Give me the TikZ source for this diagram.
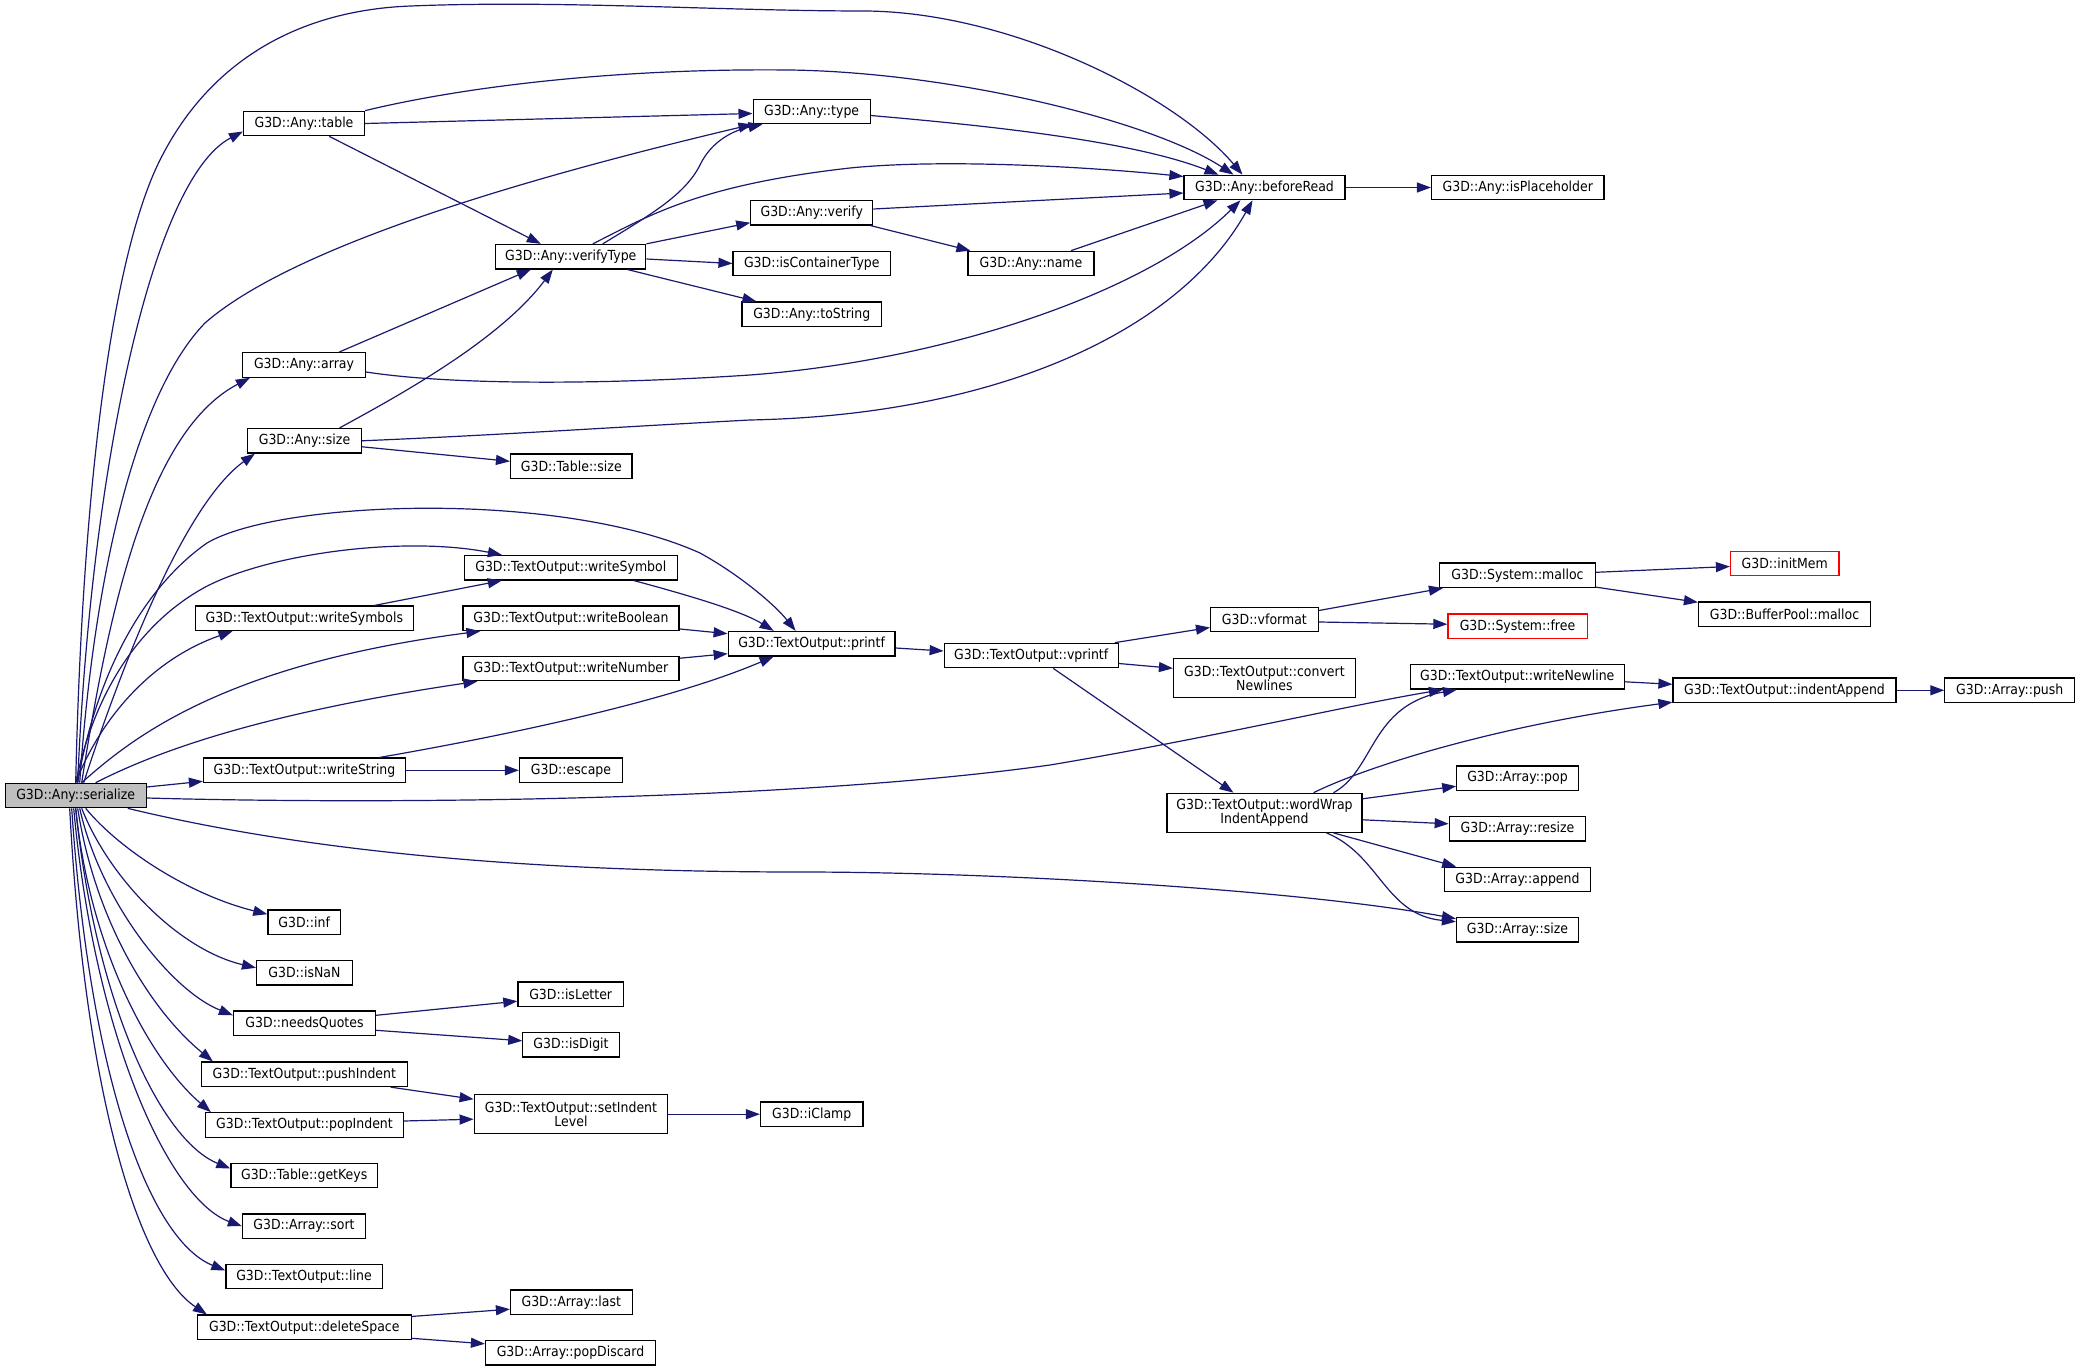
\documentclass[tikz,border=0pt]{standalone}
\usepackage{fontspec}
\setmainfont{DejaVu Sans}[FakeStretch=0.9]
\usetikzlibrary{arrows.meta,calc}
\definecolor{edgec}{HTML}{191970}
\definecolor{grayfill}{HTML}{BFBFBF}
\begin{document}
\begin{tikzpicture}[x=1pt,y=-1pt,
  fn/.style={draw=black,line width=1.2pt,inner sep=0pt,minimum height=24.5pt,
    font={\fontsize{13.9}{14.5}\selectfont},align=center,fill=white},
  fntwo/.style={fn,minimum height=39pt},
  redfn/.style={fn,draw=red},
  call/.style={draw=edgec,line width=1.2pt,-{Triangle[length=14pt,width=10pt]}}]
\fill[white] (0,0) rectangle (2081,1372);
\useasboundingbox (0,0) rectangle (2081,1372);

% nodes
\node[fn,fill=grayfill,minimum width=141pt] (serialize) at (75.7,795.5) {G3D::Any::serialize};
\node[fn,minimum width=121pt] (table) at (304,123.5) {G3D::Any::table};
\node[fn,minimum width=117pt] (type) at (811.6,111.5) {G3D::Any::type};
\node[fn,minimum width=150pt] (verifyType) at (570.8,256.7) {G3D::Any::verifyType};
\node[fn,minimum width=123pt] (array) at (304,365) {G3D::Any::array};
\node[fn,minimum width=114pt] (size) at (304.5,440.8) {G3D::Any::size};
\node[fn,minimum width=161pt] (beforeRead) at (1264.5,187.5) {G3D::Any::beforeRead};
\node[fn,minimum width=122pt] (verify) at (811.8,212.7) {G3D::Any::verify};
\node[fn,minimum width=157.5pt] (isContainer) at (811.8,263.5) {G3D::isContainerType};
\node[fn,minimum width=139.5pt] (toString) at (811.8,314.3) {G3D::Any::toString};
\node[fn,minimum width=126pt] (name) at (1031,263.5) {G3D::Any::name};
\node[fn,minimum width=172.5pt] (isPlaceholder) at (1517.8,187.5) {G3D::Any::isPlaceholder};
\node[fn,minimum width=121.5pt] (Tsize) at (571.3,466.3) {G3D::Table::size};
\node[fn,minimum width=212.7pt] (writeSymbol) at (570.8,567.7) {G3D::TextOutput::writeSymbol};
\node[fn,minimum width=218.4pt] (writeSymbols) at (304.3,618.3) {G3D::TextOutput::writeSymbols};
\node[fn,minimum width=216pt] (writeBoolean) at (571,618.3) {G3D::TextOutput::writeBoolean};
\node[fn,minimum width=216pt] (writeNumber) at (571,668.5) {G3D::TextOutput::writeNumber};
\node[fn,minimum width=202pt] (writeString) at (304.5,770.3) {G3D::TextOutput::writeString};
\node[fn,minimum width=103pt] (escape) at (571,770.3) {G3D::escape};
\node[fn,minimum width=166.8pt] (printf) at (811.6,643.7) {G3D::TextOutput::printf};
\node[fn,minimum width=174pt] (vprintf) at (1031.2,655.5) {G3D::TextOutput::vprintf};
\node[fn,minimum width=107.7pt] (vformat) at (1264.4,619.5) {G3D::vformat};
\node[fntwo,minimum width=181.8pt] (convert) at (1264.4,678.3) {G3D::TextOutput::convert\\Newlines};
\node[fntwo,minimum width=195pt] (wordWrap) at (1264.5,812.8) {G3D::TextOutput::wordWrap\\IndentAppend};
\node[fn,minimum width=156pt] (malloc) at (1517.5,575.3) {G3D::System::malloc};
\node[redfn,minimum width=108.4pt] (initMem) at (1784.7,563.5) {G3D::initMem};
\node[fn,minimum width=172pt] (BPmalloc) at (1784.5,614.3) {G3D::BufferPool::malloc};
\node[redfn,minimum width=139.2pt] (free) at (1517.5,626.2) {G3D::System::free};
\node[fn,minimum width=213.6pt] (writeNewline) at (1517.3,676.8) {G3D::TextOutput::writeNewline};
\node[fn,minimum width=223pt] (indentAppend) at (1784.5,690.3) {G3D::TextOutput::indentAppend};
\node[fn,minimum width=129.7pt] (push) at (2009.7,690.3) {G3D::Array::push};
\node[fn,minimum width=121.4pt] (pop) at (1517.5,778.2) {G3D::Array::pop};
\node[fn,minimum width=136.5pt] (resize) at (1517.5,828.8) {G3D::Array::resize};
\node[fn,minimum width=145.4pt] (append) at (1517.5,879.5) {G3D::Array::append};
\node[fn,minimum width=122pt] (Asize) at (1517.5,929.7) {G3D::Array::size};
\node[fn,minimum width=72.6pt] (inf) at (304.2,922.2) {G3D::inf};
\node[fn,minimum width=95.7pt] (isNaN) at (304.4,972.8) {G3D::isNaN};
\node[fn,minimum width=142pt] (needsQuotes) at (304.5,1023.3) {G3D::needsQuotes};
\node[fn,minimum width=105.6pt] (isLetter) at (570.7,994.2) {G3D::isLetter};
\node[fn,minimum width=96.3pt] (isDigit) at (571,1044.8) {G3D::isDigit};
\node[fn,minimum width=205.6pt] (pushIndent) at (304.3,1074.3) {G3D::TextOutput::pushIndent};
\node[fn,minimum width=198pt] (popIndent) at (304.5,1125) {G3D::TextOutput::popIndent};
\node[fntwo,minimum width=193.6pt] (setIndent) at (571,1114.2) {G3D::TextOutput::setIndent\\Level};
\node[fn,minimum width=146.6pt] (getKeys) at (304.2,1175.5) {G3D::Table::getKeys};
\node[fn,minimum width=123pt] (sort) at (304,1226.2) {G3D::Array::sort};
\node[fn,minimum width=156.2pt] (line) at (304,1276.5) {G3D::TextOutput::line};
\node[fn,minimum width=213.6pt] (deleteSpace) at (304.3,1327.3) {G3D::TextOutput::deleteSpace};
\node[fn,minimum width=121.6pt] (last) at (571.3,1302.2) {G3D::Array::last};
\node[fn,minimum width=170pt] (popDiscard) at (570.5,1352.8) {G3D::Array::popDiscard};
\node[fn,minimum width=102.4pt] (iClamp) at (811.7,1114.2) {G3D::iClamp};

% edges from serialize, upward
\draw[call] (serialize.north) .. controls (82,500) and (110,260) .. (160,160)
  .. controls (210,60) and (300,10) .. (411,6)
  .. controls (560,0) and (720,11) .. (865,11)
  .. controls (1010,12) and (1175,95) .. ($(beforeRead.north)+(-22,0)$);
\draw[call] ($(serialize.north)+(2,0)$) .. controls (90,480) and (150,180) .. ($(table.west)+(0,8)$);
\draw[call] ($(serialize.north)+(4,0)$) .. controls (95,560) and (140,390) .. (205,323)
  .. controls (300,240) and (560,170) .. (type.south west);
\draw[call] ($(serialize.north)+(6,0)$) .. controls (110,600) and (150,430) .. ($(array.south west)+(8,0)$);
\draw[call] ($(serialize.north)+(8,0)$) .. controls (130,640) and (190,500) .. ($(size.south west)+(8,0)$);
\draw[call] ($(serialize.north)+(2,0)$) .. controls (95,680) and (140,590) .. (207,543)
  .. controls (280,500) and (560,490) .. (700,553)
  .. controls (740,575) and (775,605) .. ($(printf.north)+(-16,0)$);
\draw[call] (serialize.north) .. controls (95,690) and (140,625) .. (200,590)
  .. controls (260,555) and (400,535) .. ($(writeSymbol.north west)+(38,0)$);
\draw[call] (serialize.north) .. controls (100,720) and (150,660) .. ($(writeSymbols.south west)+(38,0)$);
\draw[call] ($(serialize.north)+(6,0)$) .. controls (130,740) and (220,665) .. ($(writeBoolean.south west)+(18,0)$);
\draw[call] ($(serialize.north)+(20,0)$) .. controls (150,755) and (250,715) .. ($(writeNumber.south west)+(15,0)$);
% from serialize, right
\draw[call] ($(serialize.east)+(0,-8.5)$) -- ($(writeString.west)+(0,11)$);
\draw[call] ($(serialize.east)+(0,2.5)$) .. controls (400,805) and (800,800) .. (1050,765)
  .. controls (1200,740) and (1350,705) .. ($(writeNewline.south west)+(33,0)$);
\draw[call] ($(serialize.south east)+(-19,0)$) .. controls (300,850) and (520,872) .. (800,872)
  .. controls (1000,872) and (1300,890) .. ($(Asize.west)+(0,-11)$);
% from serialize, downward
\draw[call] ($(serialize.south)+(10,0)$) .. controls (120,850) and (190,895) .. ($(inf.west)+(0,-8)$);
\draw[call] ($(serialize.south)+(6,0)$) .. controls (110,880) and (180,950) .. ($(isNaN.west)+(0,-5)$);
\draw[call] ($(serialize.south)+(4,0)$) .. controls (100,900) and (170,990) .. ($(needsQuotes.west)+(0,-8)$);
\draw[call] ($(serialize.south)+(2,0)$) .. controls (95,920) and (150,1010) .. ($(pushIndent.north west)+(12,0)$);
\draw[call] (serialize.south) .. controls (90,950) and (150,1060) .. ($(popIndent.north west)+(6,0)$);
\draw[call] (serialize.south) .. controls (95,1000) and (160,1140) .. ($(getKeys.west)+(0,-7)$);
\draw[call] ($(serialize.south)+(-2,0)$) .. controls (95,1040) and (170,1200) .. (sort.west);
\draw[call] ($(serialize.south)+(-4,0)$) .. controls (90,1080) and (150,1240) .. ($(line.west)+(0,-6)$);
\draw[call] ($(serialize.south)+(-6,0)$) .. controls (85,1100) and (140,1270) .. ($(deleteSpace.north west)+(10,0)$);

% table
\draw[call] (table.north east) .. controls (450,90) and (600,68) .. (789,70)
  .. controls (950,72) and (1150,120) .. ($(beforeRead.north)+(-31,0)$);
\draw[call] (table.east) -- ($(type.west)+(0,2)$);
\draw[call] (table) -- ($(verifyType.north)+(-30,0)$);
% type
\draw[call] ($(type.east)+(0,4)$) .. controls (980,125) and (1130,140) .. ($(beforeRead.north)+(-46,0)$);
% verifyType
\draw[call] ($(verifyType.north)+(32,0)$) .. controls (650,215) and (685,195) .. (700,165)
  .. controls (712,140) and (735,130) .. ($(type.south west)+(10,0)$);
\draw[call] ($(verifyType.north)+(22,0)$) .. controls (650,215) and (700,185) .. (850,168)
  .. controls (950,158) and (1100,168) .. ($(beforeRead.west)+(0,-11)$);
\draw[call] (verifyType.north east) -- ($(verify.west)+(0,10)$);
\draw[call] ($(verifyType.east)+(0,2.3)$) -- (isContainer.west);
\draw[call] ($(verifyType.south east)+(-19,0)$) -- ($(toString.north west)+(15,0)$);
% array, size
\draw[call] ($(array.north)+(35,0)$) -- ($(verifyType.south)+(-40,0)$);
\draw[call] ($(array.east)+(0,7)$) .. controls (450,385) and (600,385) .. (750,375)
  .. controls (950,360) and (1150,290) .. ($(beforeRead.south)+(-24,0)$);
\draw[call] ($(size.north)+(35,0)$) .. controls (400,395) and (500,340) .. ($(verifyType.south)+(-18,0)$);
\draw[call] (size.east) .. controls (500,435) and (600,428) .. (750,420)
  .. controls (1000,415) and (1180,330) .. ($(beforeRead.south)+(-12,0)$);
\draw[call] ($(size.east)+(0,6)$) -- ($(Tsize.west)+(0,-5)$);
% verify, name, beforeRead
\draw[call] ($(verify.east)+(0,-3.7)$) -- ($(beforeRead.west)+(0,5.5)$);
\draw[call] ($(verify.south east)+(-3,0)$) -- ($(name.north west)+(3,0)$);
\draw[call] ($(name.north)+(40,0)$) -- ($(beforeRead.south)+(-47,0)$);
\draw[call] (beforeRead) -- (isPlaceholder);

% write* -> printf
\draw[call] ($(writeSymbols.north)+(70,0)$) -- ($(writeSymbol.south)+(-69,0)$);
\draw[call] ($(writeSymbol.south east)+(-44,0)$) .. controls (680,593) and (740,610) .. ($(printf.north)+(-38,0)$);
\draw[call] (writeBoolean) -- ($(printf.west)+(0,-10)$);
\draw[call] (writeNumber) -- ($(printf.west)+(0,10)$);
\draw[call] ($(writeString.north)+(75,0)$) .. controls (480,740) and (660,705) .. ($(printf.south)+(-38,0)$);
\draw[call] (writeString) -- (escape);
\draw[call] ($(printf.east)+(0,4.3)$) -- ($(vprintf.west)+(0,-4.5)$);
% vprintf
\draw[call] ($(vprintf.north east)+(-4,0)$) -- ($(vformat.west)+(0,8)$);
\draw[call] ($(vprintf.east)+(0,8)$) -- ($(convert.west)+(0,-10)$);
\draw[call] ($(vprintf.south)+(22,0)$) -- ($(wordWrap.north)+(-31,0)$);
% vformat, malloc
\draw[call] ($(vformat.east)+(0,-9)$) -- ($(malloc.south west)+(4,0)$);
\draw[call] ($(vformat.east)+(0,2.5)$) -- ($(free.west)+(0,-2)$);
\draw[call] ($(malloc.east)+(0,-3)$) -- ($(initMem.west)+(0,3)$);
\draw[call] ($(malloc.south east)+(0,-1)$) -- ($(BPmalloc.west)+(0,-12)$);
% writeNewline, indentAppend
\draw[call] ($(writeNewline.east)+(0,5)$) -- ($(indentAppend.west)+(0,-6)$);
\draw[call] (indentAppend) -- (push);
% wordWrap
\draw[call] ($(wordWrap.north)+(69,0)$) .. controls (1375,770) and (1370,705) .. ($(writeNewline.south west)+(47,0)$);
\draw[call] ($(wordWrap.north)+(49,0)$) .. controls (1370,765) and (1500,725) .. ($(indentAppend.south west)+(0,-1)$);
\draw[call] ($(wordWrap.east)+(0,-14)$) -- ($(pop.west)+(0,8)$);
\draw[call] ($(wordWrap.east)+(0,7)$) -- ($(resize.west)+(0,-5)$);
\draw[call] ($(wordWrap.south)+(69,0)$) -- ($(append.north west)+(12,0)$);
\draw[call] ($(wordWrap.south)+(62,0)$) .. controls (1380,855) and (1385,915) .. ($(Asize.west)+(0,-8)$);
% lower part
\draw[call] ($(needsQuotes.east)+(0,-8)$) -- ($(isLetter.west)+(0,7)$);
\draw[call] ($(needsQuotes.east)+(0,7)$) -- ($(isDigit.west)+(0,-4)$);
\draw[call] ($(pushIndent.south east)+(-17,0)$) -- ($(setIndent.west)+(0,-15)$);
\draw[call] ($(popIndent.east)+(0,-4)$) -- ($(setIndent.west)+(0,5)$);
\draw[call] (setIndent) -- (iClamp);
\draw[call] ($(deleteSpace.north east)+(0,2)$) -- ($(last.west)+(0,7)$);
\draw[call] ($(deleteSpace.east)+(0,11)$) -- ($(popDiscard.west)+(0,-9)$);
\end{tikzpicture}
\end{document}
